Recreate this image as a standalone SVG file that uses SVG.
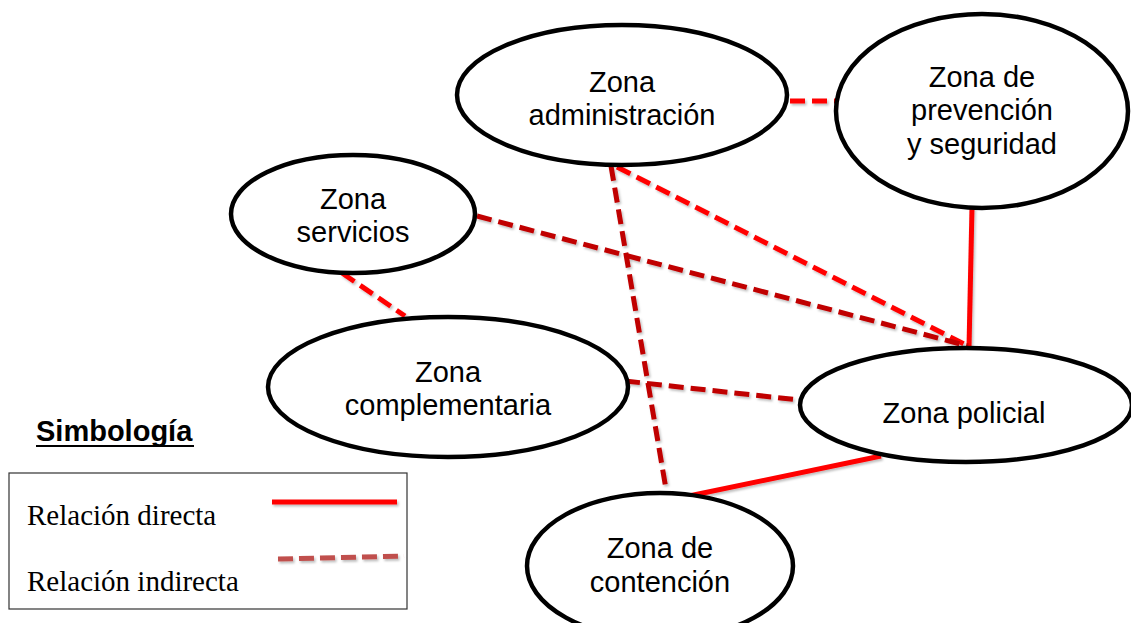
<svg xmlns="http://www.w3.org/2000/svg" width="1131" height="623" viewBox="0 0 1131 623">
  <defs>
    <filter id="sh" filterUnits="userSpaceOnUse" x="0" y="0" width="1131" height="623">
      <feDropShadow dx="1.5" dy="2" stdDeviation="1.2" flood-color="#000" flood-opacity="0.25"/>
    </filter>
    <style>
      .node ellipse { fill: #fff; stroke: #000; stroke-width: 4.5; }
      .lbl { font-family: "Liberation Sans", Arial, sans-serif; font-size: 29px; fill: #000; text-anchor: middle; }
      .direct { stroke: #ff0000; stroke-width: 5; fill: none; }
      .ind { stroke: #ff0000; stroke-width: 5; stroke-dasharray: 15 7; fill: none; }
      .ind2 { stroke: #c00000; stroke-width: 5; stroke-dasharray: 15 7; fill: none; }
      .leg { font-family: "Liberation Serif", "Times New Roman", serif; font-size: 29px; fill: #000; }
    </style>
  </defs>
  <rect width="1131" height="623" fill="#fff"/>

  <g id="connectors" filter="url(#sh)">
    <line class="ind" x1="790" y1="101" x2="836" y2="101"/>
    <line class="direct" x1="972" y1="207" x2="969" y2="348"/>
    <line class="ind" x1="617" y1="167" x2="968" y2="346"/>
    <line class="ind2" x1="477" y1="216" x2="968" y2="346"/>
    <line class="ind2" x1="611" y1="166" x2="667" y2="495"/>
    <line class="ind" x1="342" y1="273" x2="405" y2="316"/>
    <line class="ind2" x1="625" y1="381" x2="799" y2="400"/>
    <line class="direct" x1="684" y1="497" x2="881" y2="456"/>
  </g>

  <g id="zona-administracion" class="node">
    <ellipse cx="622" cy="95" rx="165" ry="70"/>
    <text class="lbl" x="622" y="92">Zona</text>
    <text class="lbl" x="622" y="125">administración</text>
  </g>

  <g id="zona-prevencion" class="node">
    <ellipse cx="982" cy="111" rx="146" ry="97"/>
    <text class="lbl" x="982" y="87">Zona de</text>
    <text class="lbl" x="982" y="120">prevención</text>
    <text class="lbl" x="982" y="154">y seguridad</text>
  </g>

  <g id="zona-servicios" class="node">
    <ellipse cx="353" cy="214" rx="122" ry="59"/>
    <text class="lbl" x="353" y="209">Zona</text>
    <text class="lbl" x="353" y="242">servicios</text>
  </g>

  <g id="zona-complementaria" class="node">
    <ellipse cx="448" cy="387" rx="180" ry="70"/>
    <text class="lbl" x="448" y="382">Zona</text>
    <text class="lbl" x="448" y="415">complementaria</text>
  </g>

  <g id="zona-policial" class="node">
    <ellipse cx="966" cy="405" rx="166" ry="57"/>
    <text class="lbl" x="964" y="423">Zona policial</text>
  </g>

  <g id="zona-contencion" class="node">
    <ellipse cx="660" cy="566" rx="133" ry="73"/>
    <text class="lbl" x="660" y="558">Zona de</text>
    <text class="lbl" x="660" y="592">contención</text>
  </g>

  <g id="simbologia">
    <text x="36" y="441" font-family="'Liberation Sans', Arial, sans-serif" font-size="29" font-weight="bold" fill="#000">Simbología</text>
    <line x1="36" y1="446" x2="194" y2="446" stroke="#000" stroke-width="2"/>
    <rect x="9" y="473" width="398" height="136" fill="#fff" stroke="#333" stroke-width="1.2"/>
    <text class="leg" x="27" y="525">Relación directa</text>
    <text class="leg" x="27" y="591">Relación indirecta</text>
    <line x1="272" y1="502" x2="397" y2="502" stroke="#ff0000" stroke-width="5" filter="url(#sh)"/>
    <line x1="278" y1="559" x2="404" y2="556" stroke="#c0504d" stroke-width="5" stroke-dasharray="15 6" filter="url(#sh)"/>
  </g>
</svg>
